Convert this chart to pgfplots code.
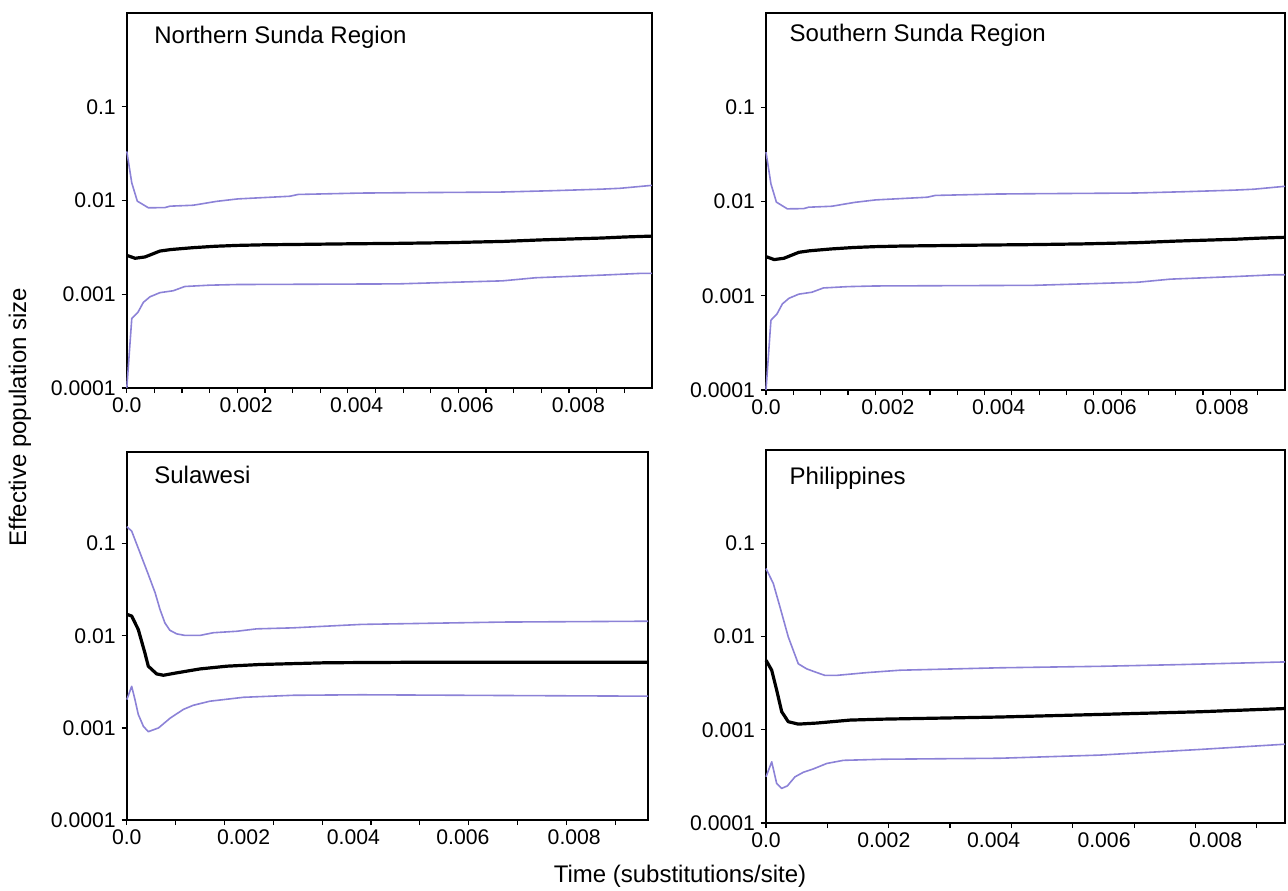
\documentclass[border=0pt]{standalone}
\usepackage{fontspec}
\setmainfont{Liberation Sans}
\usepackage{pgfplots}
\pgfplotsset{compat=1.18}
\definecolor{hpd}{RGB}{140,130,215}

\pgfplotsset{every axis/.append style={scale only axis, ymode=log, ymin=1e-4, ymax=1, xmin=0,
    axis line style={line width=1pt}, tick align=outside,
    xtick pos=left, ytick pos=left, scaled x ticks=false,
    ytick={1e-4,1e-3,1e-2,1e-1}, yticklabels={0.0001,0.001,0.01,0.1},
    minor ytick={1e-4,1e-3,1e-2,1e-1},
    xticklabels={0.0,0.002,0.004,0.006,0.008},
    major tick length=0pt, minor tick length=2.6pt,
    tick style={black, line width=0.6pt},
    tick label style={font=\fontsize{10.6}{12}\selectfont},
    xticklabel style={yshift=-1.5pt}, yticklabel style={xshift=-2pt},
    clip=false}}
\tikzset{
  med/.style={black, line width=1.6pt, line join=round},
  hpdl/.style={hpd, line width=0.8pt, line join=round},
  ttl/.style={anchor=west, font=\fontsize{12}{14}\selectfont}
}

\begin{document}
\begin{tikzpicture}
\useasboundingbox (0,0) rectangle (644pt,445pt);

% Northern Sunda Region
\begin{axis}[at={(63.4pt,251pt)}, anchor=south west,
  width=262.5pt, height=187.5pt, xmax=0.0095,
  xtick={0,0.00216,0.00416,0.00616,0.00817},
  minor xtick={0,0.0005,0.001,0.0015,0.002,0.0025,0.003,0.0035,0.004,0.0045,0.005,0.0055,0.006,0.0065,0.007,0.0075,0.008,0.0085,0.009}]
\addplot[hpdl] table {
0 0.0334
0.00009 0.0154
0.00019 0.00985
0.00039 0.00836
0.00069 0.0084
0.00078 0.0087
0.0012 0.0089
0.00163 0.0098
0.00201 0.0104
0.00295 0.0111
0.0031 0.0116
0.00422 0.0120
0.00494 0.0121
0.00676 0.0123
0.00766 0.0127
0.00857 0.0132
0.00893 0.0135
0.0095 0.0145
};
\addplot[hpdl] table {
0 0.0001
0.00009 0.00055
0.0002 0.00064
0.0003 0.00082
0.00042 0.00094
0.0006 0.00104
0.00084 0.00109
0.00105 0.00121
0.0015 0.00125
0.002 0.00127
0.0049 0.00129
0.0068 0.00139
0.0074 0.0015
0.0086 0.0016
0.0093 0.00167
0.0095 0.00167
};
\addplot[med] table {
0 0.0026
0.00015 0.00242
0.00033 0.0025
0.0006 0.00289
0.0008 0.0030
0.0012 0.00314
0.0016 0.00325
0.002 0.00332
0.0025 0.00337
0.0031 0.0034
0.004 0.00345
0.0049 0.00349
0.0058 0.00355
0.0068 0.00366
0.0075 0.0038
0.0086 0.00398
0.009 0.00408
0.0095 0.00417
};
\node[ttl, xshift=10.25pt, yshift=-12pt] at (rel axis cs:0,1) {Northern Sunda Region};
\end{axis}

% Southern Sunda Region
\begin{axis}[at={(383pt,250pt)}, anchor=south west,
  width=259.5pt, height=188.5pt, xmax=0.0095,
  xtick={0,0.00223,0.00426,0.0063,0.00835},
  minor xtick={0,0.0005,0.001,0.0015,0.002,0.0025,0.003,0.0035,0.004,0.0045,0.005,0.0055,0.006,0.0065,0.007,0.0075,0.008,0.0085,0.009}]
\addplot[hpdl] table {
0 0.0334
0.00009 0.0154
0.00019 0.00985
0.00039 0.00836
0.00069 0.0084
0.00078 0.0087
0.0012 0.0089
0.00163 0.0098
0.00201 0.0104
0.00295 0.0111
0.0031 0.0116
0.00422 0.0120
0.00494 0.0121
0.00676 0.0123
0.00766 0.0127
0.00857 0.0132
0.00893 0.0135
0.0095 0.0145
};
\addplot[hpdl] table {
0 0.0001
0.00009 0.00055
0.0002 0.00064
0.0003 0.00082
0.00042 0.00094
0.0006 0.00104
0.00084 0.00109
0.00105 0.00121
0.0015 0.00125
0.002 0.00127
0.0049 0.00129
0.0068 0.00139
0.0074 0.0015
0.0086 0.0016
0.0093 0.00167
0.0095 0.00167
};
\addplot[med] table {
0 0.0026
0.00015 0.00242
0.00033 0.0025
0.0006 0.00289
0.0008 0.0030
0.0012 0.00314
0.0016 0.00325
0.002 0.00332
0.0025 0.00337
0.0031 0.0034
0.004 0.00345
0.0049 0.00349
0.0058 0.00355
0.0068 0.00366
0.0075 0.0038
0.0086 0.00398
0.009 0.00408
0.0095 0.00417
};
\node[ttl, xshift=8.3pt, yshift=-11pt] at (rel axis cs:0,1) {Southern Sunda Region};
\end{axis}

% Sulawesi
\begin{axis}[at={(63.4pt,35pt)}, anchor=south west,
  width=260.6pt, height=184.2pt, xmax=0.01067,
  xtick={0,0.00239,0.00464,0.00688,0.00916},
  minor xtick={0,0.001,0.002,0.003,0.004,0.005,0.006,0.007,0.008,0.009,0.010}]
\addplot[hpdl] table {
0 0.153
0.0001 0.137
0.00027 0.0798
0.00044 0.0464
0.00058 0.0293
0.00068 0.0193
0.00078 0.0138
0.00088 0.0115
0.00102 0.0105
0.00119 0.0101
0.0015 0.0101
0.00177 0.0108
0.00225 0.0112
0.00266 0.0119
0.0034 0.0122
0.0048 0.0133
0.0077 0.0141
0.01067 0.0144
};
\addplot[hpdl] table {
0 0.00203
0.0001 0.00283
0.00017 0.0020
0.000235 0.0014
0.00034 0.00104
0.00044 0.00091
0.00065 0.0010
0.00089 0.00128
0.00116 0.00159
0.00136 0.00176
0.0017 0.00195
0.00239 0.00215
0.0034 0.00226
0.0048 0.00229
0.0076 0.00225
0.01067 0.00221
};
\addplot[med] table {
0 0.0171
0.0001 0.0164
0.000235 0.0117
0.00037 0.00653
0.00044 0.00468
0.00061 0.00386
0.00075 0.00373
0.00102 0.00396
0.0015 0.00437
0.00205 0.00468
0.00273 0.00488
0.00409 0.0051
0.0056 0.00515
0.01067 0.00516
};
\node[ttl, xshift=10.25pt, yshift=-11.5pt] at (rel axis cs:0,1) {Sulawesi};
\end{axis}

% Philippines
\begin{axis}[at={(383pt,33.5pt)}, anchor=south west,
  width=259.5pt, height=186.5pt, xmax=0.00846,
  xtick={0,0.00192,0.00371,0.00551,0.00733},
  minor xtick={0,0.001,0.002,0.003,0.004,0.005,0.006,0.007,0.008}]
\addplot[hpdl] table {
0 0.0536
0.000119 0.037
0.000228 0.0207
0.000363 0.0099
0.000526 0.0051
0.000663 0.0045
0.000826 0.00411
0.00096 0.00383
0.00115 0.00383
0.00164 0.0041
0.00218 0.00435
0.00381 0.00462
0.00544 0.00479
0.00675 0.0050
0.00846 0.00534
};
\addplot[hpdl] table {
0 0.000313
0.000093 0.000453
0.000174 0.000265
0.000256 0.000235
0.000348 0.00025
0.000473 0.000313
0.000608 0.00035
0.00077 0.00038
0.00099 0.000435
0.00126 0.00047
0.00191 0.000483
0.00381 0.000495
0.00544 0.000535
0.00707 0.000615
0.00846 0.0007
};
\addplot[med] table {
0 0.00557
0.000093 0.00435
0.000174 0.00266
0.000256 0.00156
0.000363 0.00122
0.000526 0.00115
0.000826 0.00118
0.00137 0.00127
0.00191 0.0013
0.00381 0.00137
0.00544 0.00146
0.00707 0.00156
0.00846 0.00169
};
\node[ttl, xshift=8.3pt, yshift=-14pt] at (rel axis cs:0,1) {Philippines};
\end{axis}

\node[rotate=90, font=\fontsize{12}{14}\selectfont] at (10pt,236.5pt) {Effective population size};
\node[font=\fontsize{12}{14}\selectfont] at (340pt,7pt) {Time (substitutions/site)};
\end{tikzpicture}
\end{document}
